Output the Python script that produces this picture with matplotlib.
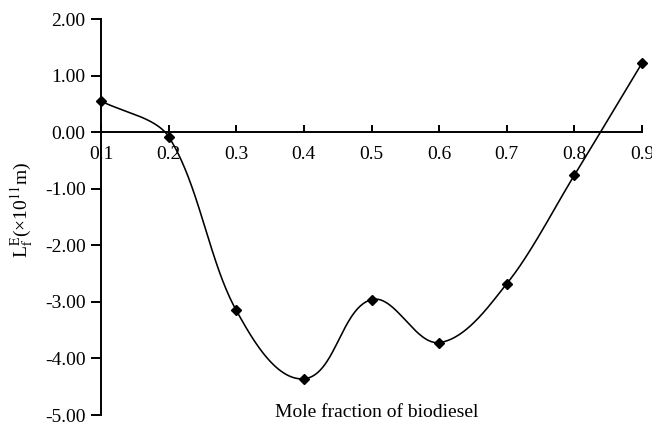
import numpy as np
import matplotlib
matplotlib.use("Agg")
import matplotlib.pyplot as plt

plt.rcParams['font.family'] = ['Liberation Serif', 'DejaVu Serif']
plt.rcParams['mathtext.fontset'] = 'stix'

mole_fraction = [0.1, 0.2, 0.3, 0.4, 0.5, 0.6, 0.7, 0.8, 0.9]
lf_excess = [0.55, -0.08, -3.15, -4.36, -2.96, -3.72, -2.68, -0.76, 1.22]
x_ticks = [0.1, 0.2, 0.3, 0.4, 0.5, 0.6, 0.7, 0.8, 0.9]
x_tick_labels = ["0.1", "0.2", "0.3", "0.4", "0.5", "0.6", "0.7", "0.8", "0.9"]
y_ticks = [-5, -4, -3, -2, -1, 0, 1, 2]


def smooth_curve(x, y, sx, sy, k=0.3, n=60):
    # Bezier smoothing with tangent directions from neighbours and arm lengths
    # proportional to the segment length (done in a roughly isotropic scaled space)
    P = np.column_stack([np.asarray(x) * sx, np.asarray(y) * sy])
    m = len(P)
    tang = []
    for i in range(m):
        a = P[i - 1] if i > 0 else P[i]
        b = P[i + 1] if i < m - 1 else P[i]
        d = b - a
        tang.append(d / np.linalg.norm(d))
    out = []
    for i in range(m - 1):
        p1, p2 = P[i], P[i + 1]
        L = np.linalg.norm(p2 - p1)
        c1 = p1 + tang[i] * L * k
        c2 = p2 - tang[i + 1] * L * k
        t = np.linspace(0, 1, n)[:, None]
        seg = ((1 - t) ** 3) * p1 + 3 * ((1 - t) ** 2) * t * c1 + 3 * (1 - t) * t ** 2 * c2 + t ** 3 * p2
        out.append(seg if i == 0 else seg[1:])
    S = np.vstack(out)
    return S[:, 0] / sx, S[:, 1] / sy


fig = plt.figure(figsize=(6.52, 4.23), dpi=100)
ax = fig.add_axes([101 / 652, (423 - 415) / 423, (642 - 101) / 652, (415 - 19) / 423])

xs, ys = smooth_curve(mole_fraction, lf_excess, 676.0, 56.7)
ax.plot(xs, ys, color='black', lw=1.15, zorder=3)
ax.plot(mole_fraction, lf_excess, linestyle='none', marker='D', color='black',
        markersize=5.5, zorder=4, clip_on=False)

ax.set_xlim(0.1, 0.9)
ax.set_ylim(-5, 2)
ax.spines['top'].set_visible(False)
ax.spines['right'].set_visible(False)
ax.spines['bottom'].set_position(('data', 0))
ax.spines['left'].set_linewidth(1.4)
ax.spines['bottom'].set_linewidth(1.4)

ax.set_xticks(x_ticks)
ax.set_xticklabels(x_tick_labels)
ax.set_yticks(y_ticks)
ax.set_yticklabels([f"{v:.2f}".replace('\u2212', '-') for v in y_ticks])
ax.tick_params(axis='x', direction='in', length=5, width=1.4, pad=10, labelsize=14)
ax.tick_params(axis='y', direction='out', length=7, width=1.4, pad=4, labelsize=14)

fig.text(22 / 652, (423 - 210) / 423, r"L$^{\mathrm{E}}_{\mathrm{f}}$(×10$^{11}$m)", rotation=90,
         ha='center', va='center', fontsize=14)
fig.text(377 / 652, (423 - 412) / 423, "Mole fraction of biodiesel",
         ha='center', va='center', fontsize=14)

fig.savefig("out.png", dpi=100)
